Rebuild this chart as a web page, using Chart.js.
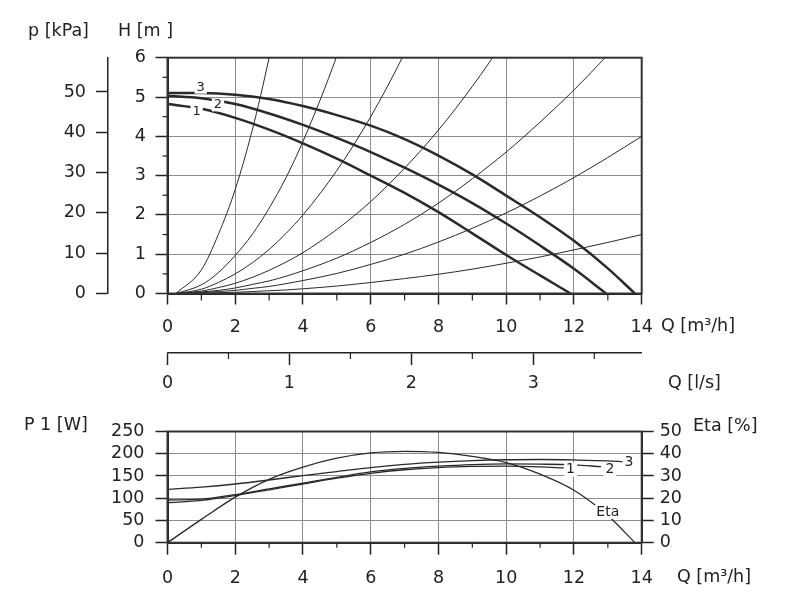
<!DOCTYPE html>
<html>
<head>
<meta charset="utf-8">
<script src="https://cdn.jsdelivr.net/npm/chart.js@4.4.1/dist/chart.umd.min.js"></script>
<style>
  html, body { margin: 0; padding: 0; background: #fff; }
  #wrap { position: relative; width: 792px; height: 608px; }
  .box { position: absolute; left: 0; }
  #top { top: 0; }
  #bottom { top: 410px; }
</style>
</head>
<body>
<div id="wrap">
  <div class="box" id="top"><canvas id="headChart" width="792" height="410"></canvas></div>
  <div class="box" id="bottom"><canvas id="powerChart" width="792" height="198"></canvas></div>
</div>
<script>
// pump curves H(Q), speeds 1..3
const pumpQ1 = [0, 1, 2, 3, 4, 5, 6, 7, 8, 9, 10, 11, 11.9];
const pumpH1 = [4.82, 4.7, 4.47, 4.17, 3.82, 3.43, 3.0, 2.56, 2.07, 1.53, 0.98, 0.46, 0];
const pumpQ2 = [0, 1, 2, 3, 4, 5, 6, 7, 8, 9, 10, 11, 12, 12.95];
const pumpH2 = [5.03, 4.97, 4.82, 4.58, 4.29, 3.96, 3.6, 3.2, 2.77, 2.3, 1.78, 1.22, 0.63, 0];
const pumpQ3 = [0, 1, 2, 3, 4, 5, 6, 7, 8, 9, 10, 11, 12, 13, 13.8];
const pumpH3 = [5.1, 5.1, 5.06, 4.95, 4.77, 4.54, 4.27, 3.93, 3.51, 3.03, 2.49, 1.94, 1.34, 0.64, 0];

// system curves (thin parabolas)
const sysQ = [0.25, 1, 1.5, 2, 2.5, 3, 3.5, 4, 5, 6, 7, 8, 9, 10, 11, 12, 13, 14];
const sysA = [0, 0.6, 1.5, 2.65, 4.15, 6.0, 8.1];
const sysB = [0, 0.22, 0.53, 0.97, 1.5, 2.17, 2.95, 3.87, 6.05, 8.7];
const sysC = [0, 0.11, 0.28, 0.5, 0.78, 1.12, 1.53, 2.0, 3.13, 4.5, 6.12, 8.0];
const sysD = [0, 0.06, 0.15, 0.26, 0.41, 0.59, 0.8, 1.04, 1.63, 2.34, 3.19, 4.16, 5.27, 6.5];
const sysE = [0, 0.04, 0.08, 0.14, 0.23, 0.32, 0.44, 0.58, 0.9, 1.3, 1.76, 2.3, 2.92, 3.6, 4.36, 5.18, 6.08, 7.06];
const sysF = [0, 0.02, 0.05, 0.08, 0.13, 0.18, 0.25, 0.33, 0.51, 0.74, 1.0, 1.31, 1.66, 2.05, 2.48, 2.95, 3.46, 4.0];
const sysG = [0, 0.01, 0.02, 0.03, 0.05, 0.07, 0.09, 0.12, 0.19, 0.28, 0.38, 0.49, 0.62, 0.77, 0.93, 1.11, 1.3, 1.5];

// power P1(Q) and efficiency
const powQ1 = [0, 1, 2, 3, 4, 5, 6, 7, 8, 9, 10, 11, 11.7];
const powP1 = [90, 95, 106, 119, 132, 145, 156, 164, 169, 171.5, 172, 170.5, 168];
const powQ2 = [0, 1, 2, 3, 4, 5, 6, 7, 8, 9, 10, 11, 12, 12.8];
const powP2 = [96, 98, 108, 121, 134, 147, 159, 167, 172, 175.5, 177, 176.5, 175, 171];
const powQ3 = [0, 1, 2, 3, 4, 5, 6, 7, 8, 9, 10, 11, 12, 13, 13.45];
const powP3 = [120, 125, 132, 141, 151, 160, 169, 176, 181, 184.5, 186.5, 187, 186, 184, 182];
const etaQ = [0, 1, 2, 3, 4, 5, 6, 7, 8, 9, 10, 11, 12, 13, 13.8];
const etaV = [0, 10.5, 20.5, 28.5, 34, 38, 40.4, 41.1, 40.6, 38.8, 36, 30.8, 23.6, 12.2, 0];

// axes
const qMax = 14;
const hMax = 6;
const kpaMax = 58.5;
const lsMax = 3.889;
const qMinor = [1, 3, 5, 7, 9, 11, 13];
const hMinor = [0.5, 1.5, 2.5, 3.5, 4.5, 5.5];
const lsMinor = [0.5, 1.5, 2.5, 3.5];

const INK = '#222';
const GRID = '#8c8c8c';
Chart.defaults.font.family = '"DejaVu Sans"';
Chart.defaults.font.size = 17.5;
Chart.defaults.color = INK;

function points(qs, vs) {
  const out = [];
  vs.forEach((v, i) => { if (v !== null && v !== undefined) out.push({ x: qs[i], y: v }); });
  return out;
}

function line(data, width, yAxisID) {
  return { data, borderColor: '#2a2a2a', borderWidth: width, pointRadius: 0,
           cubicInterpolationMode: 'monotone', fill: false, yAxisID: yAxisID || 'y' };
}

// short ticks between the labelled ones
const minorTicks = {
  id: 'minorTicks',
  afterDraw(chart, args, opts) {
    const ctx = chart.ctx;
    ctx.save();
    ctx.strokeStyle = INK;
    ctx.lineWidth = 1.2;
    (opts.items || []).forEach(it => {
      const s = chart.scales[it.scale];
      it.values.forEach(v => {
        const p = s.getPixelForValue(v);
        ctx.beginPath();
        if (s.isHorizontal()) { ctx.moveTo(p, s.top); ctx.lineTo(p, s.top + it.len); }
        else { ctx.moveTo(s.right, p); ctx.lineTo(s.right - it.len, p); }
        ctx.stroke();
      });
    });
    ctx.restore();
  }
};

// thick frame round the plot
const frame = {
  id: 'frame',
  afterDatasetsDraw(chart) {
    const a = chart.chartArea, ctx = chart.ctx;
    ctx.save();
    ctx.strokeStyle = '#333';
    ctx.lineWidth = 2;
    ctx.strokeRect(a.left, a.top, a.right - a.left, a.bottom - a.top);
    ctx.restore();
  }
};

// titles and curve labels
const textLayer = {
  id: 'textLayer',
  afterDraw(chart, args, opts) {
    const ctx = chart.ctx;
    (opts.texts || []).forEach(t => {
      const size = t.size || 17.5;
      let x = t.x, y = t.y;
      if (t.xs) { x = chart.scales[t.xs].getPixelForValue(t.q); y = chart.scales[t.ys].getPixelForValue(t.v); }
      ctx.save();
      ctx.font = size + 'px "DejaVu Sans"';
      ctx.textAlign = t.xs ? 'center' : 'left';
      ctx.textBaseline = 'middle';
      if (t.xs) {
        const w = ctx.measureText(t.text).width;
        ctx.fillStyle = '#fff';
        ctx.fillRect(x - w / 2 - 2, y - size / 2, w + 4, size);
      }
      ctx.fillStyle = INK;
      ctx.fillText(t.text, x, y);
      ctx.restore();
    });
  }
};

Chart.register(minorTicks, frame, textLayer);

const tickGrid = (len, onArea) => ({ color: GRID, lineWidth: 1, tickColor: INK, tickLength: len,
                                     tickWidth: 1.5, drawOnChartArea: onArea });

new Chart(document.getElementById('headChart'), {
  type: 'line',
  data: {
    datasets: [
      line(points(pumpQ3, pumpH3), 2.5),
      line(points(pumpQ2, pumpH2), 2.5),
      line(points(pumpQ1, pumpH1), 2.5),
      line(points(sysQ, sysA), 1),
      line(points(sysQ, sysB), 1),
      line(points(sysQ, sysC), 1),
      line(points(sysQ, sysD), 1),
      line(points(sysQ, sysE), 1),
      line(points(sysQ, sysF), 1),
      line(points(sysQ, sysG), 1)
    ]
  },
  options: {
    responsive: false,
    animation: false,
    layout: { padding: { left: 48, right: 150.3, top: 57.7, bottom: 12 } },
    plugins: {
      legend: { display: false },
      tooltip: { enabled: false },
      minorTicks: { items: [
        { scale: 'x', values: qMinor, len: 7 },
        { scale: 'y', values: hMinor, len: 5 },
        { scale: 'x2', values: lsMinor, len: 6 }
      ] },
      textLayer: { texts: [
        { text: 'p [kPa]', x: 28, y: 31 },
        { text: 'H [m ]', x: 118, y: 31 },
        { text: 'Q [m³/h]', x: 661, y: 326 },
        { text: 'Q [l/s]', x: 668, y: 383 },
        { text: '3', xs: 'x', ys: 'y', q: 0.98, v: 5.25, size: 13 },
        { text: '2', xs: 'x', ys: 'y', q: 1.49, v: 4.8, size: 13 },
        { text: '1', xs: 'x', ys: 'y', q: 0.86, v: 4.62, size: 13 }
      ] }
    },
    scales: {
      x: {
        type: 'linear', position: 'bottom', min: 0, max: qMax, weight: 0,
        ticks: { stepSize: 2, padding: 12 },
        grid: tickGrid(11, true),
        border: { color: INK, width: 2 },
        afterFit: s => { s.height = 59.5; }
      },
      x2: {
        type: 'linear', position: 'bottom', min: 0, max: lsMax, weight: 1,
        ticks: { stepSize: 1, padding: 8, includeBounds: false },
        grid: tickGrid(12, false),
        border: { color: INK, width: 1.5 },
        afterFit: s => { s.height = 45; }
      },
      y: {
        type: 'linear', position: 'left', min: 0, max: hMax, weight: 0,
        ticks: { stepSize: 1, padding: 9.5, autoSkip: false },
        grid: tickGrid(12, true),
        border: { color: INK, width: 2 },
        afterFit: s => { s.width = 59.5; }
      },
      yk: {
        type: 'linear', position: 'left', min: 0, max: kpaMax, weight: 10,
        ticks: { stepSize: 10, padding: 10, includeBounds: false, autoSkip: false },
        grid: tickGrid(12, false),
        border: { color: INK, width: 1.5 },
        afterFit: s => { s.width = 60; }
      }
    }
  }
});

new Chart(document.getElementById('powerChart'), {
  type: 'line',
  data: {
    datasets: [
      line(points(powQ3, powP3), 1.3),
      line(points(powQ2, powP2), 1.3),
      line(points(powQ1, powP1), 1.3),
      line(points(etaQ, etaV), 1.3, 'yEta')
    ]
  },
  options: {
    responsive: false,
    animation: false,
    layout: { padding: { left: 107.5, right: 90.3, top: 14, bottom: 20.3 } },
    plugins: {
      legend: { display: false },
      tooltip: { enabled: false },
      minorTicks: { items: [ { scale: 'x', values: qMinor, len: 5 } ] },
      textLayer: { texts: [
        { text: 'P 1 [W]', x: 24, y: 15 },
        { text: 'Eta [%]', x: 693, y: 16 },
        { text: 'Q [m³/h]', x: 677, y: 167 },
        { text: '3', xs: 'x', ys: 'y', q: 13.62, v: 180, size: 14 },
        { text: '2', xs: 'x', ys: 'y', q: 13.06, v: 164, size: 14 },
        { text: '1', xs: 'x', ys: 'y', q: 11.9, v: 164, size: 14 },
        { text: 'Eta', xs: 'x', ys: 'yEta', q: 13.0, v: 13.8, size: 14 }
      ] }
    },
    scales: {
      x: {
        type: 'linear', position: 'bottom', min: 0, max: qMax,
        ticks: { stepSize: 2, padding: 13 },
        grid: tickGrid(12, true),
        border: { color: INK, width: 2 },
        afterFit: s => { s.height = 45; }
      },
      y: {
        type: 'linear', position: 'left', min: 0, max: 250,
        ticks: { stepSize: 50, padding: 11, autoSkip: false },
        grid: tickGrid(12, true),
        border: { color: INK, width: 2 },
        afterFit: s => { s.width = 60; }
      },
      yEta: {
        type: 'linear', position: 'right', min: 0, max: 50,
        ticks: { stepSize: 10, padding: 6, autoSkip: false },
        grid: tickGrid(12, false),
        border: { color: INK, width: 2 },
        afterFit: s => { s.width = 60; }
      }
    }
  }
});
</script>
</body>
</html>
